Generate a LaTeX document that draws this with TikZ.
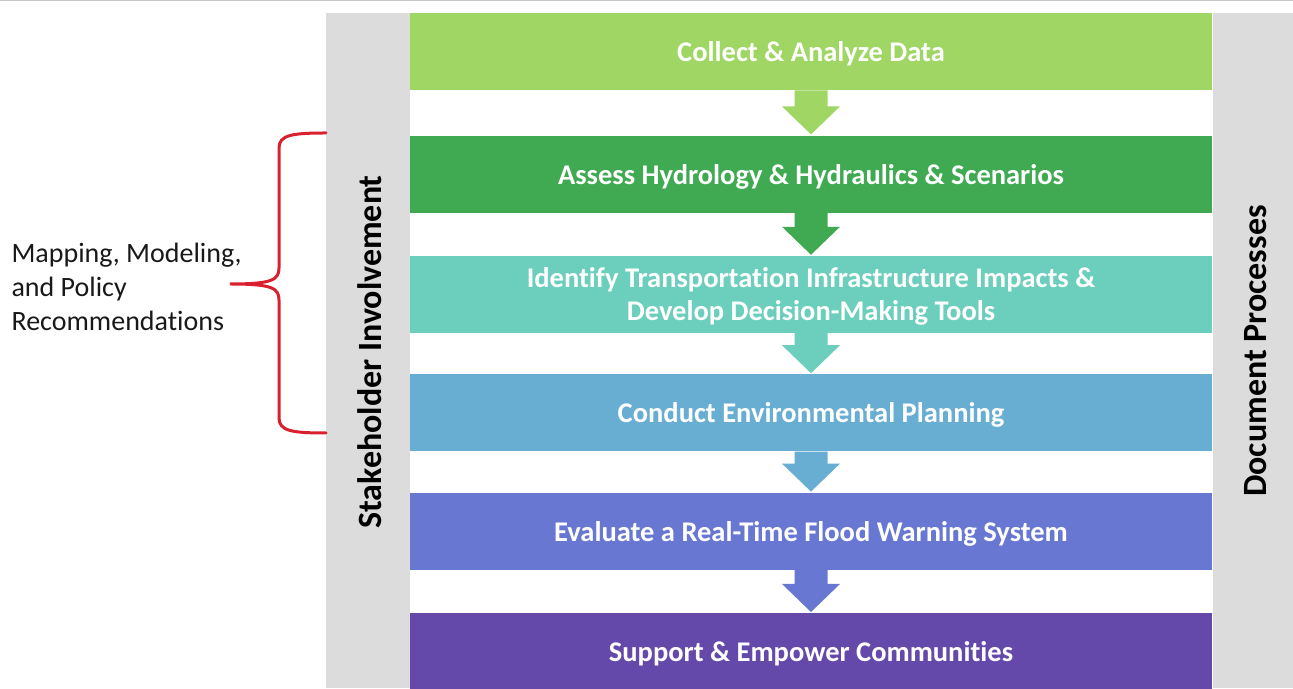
\documentclass[tikz,border=0pt]{standalone}
\usepackage{fontspec}
\setmainfont{Carlito}[Ligatures={NoCommon}]
\usetikzlibrary{positioning}
\definecolor{collectc}{HTML}{A0D664}
\definecolor{assessc}{HTML}{40AA52}
\definecolor{identifyc}{HTML}{6CCEBC}
\definecolor{conductc}{HTML}{68AED2}
\definecolor{evaluatec}{HTML}{6878D2}
\definecolor{supportc}{HTML}{6449AB}
\definecolor{bandc}{HTML}{DCDCDC}
\definecolor{bracec}{HTML}{D9202F}
\newcommand\steparrow[3]{%
  \fill[#3] ([xshift=-16.5pt]#1.south) -- ([xshift=-16.5pt,yshift=29pt]#2.north)
    -- ([xshift=-29pt,yshift=29pt]#2.north) -- ([yshift=1pt]#2.north)
    -- ([xshift=29pt,yshift=29pt]#2.north) -- ([xshift=16.5pt,yshift=29pt]#2.north)
    -- ([xshift=16.5pt]#1.south) -- cycle;}
\begin{document}
\begin{tikzpicture}[x=1pt, y=1pt,
        stepbox/.style = {minimum width=802pt, minimum height=77pt, inner sep=0pt,
            text depth=0pt, text=white, align=center,
            font=\bfseries\fontsize{28.5}{33}\selectfont},
        sidelabel/.style = {rotate=90, font=\bfseries\fontsize{34}{40}\selectfont}]
        \useasboundingbox (0,0) rectangle (1293,688);
        \draw[black!22, line width=1.5pt] (0,687.5) -- (1293,687.5);
        \fill[bandc] (326,0) rectangle (409.5,675);
        \fill[bandc] (1212.5,0) rectangle (1293,675);
        \node[stepbox, fill=collectc, anchor=north] (collect) at (811,675) {Collect \& Analyze Data};
        \node[stepbox, fill=assessc, below=45pt of collect] (assess) {Assess Hydrology \& Hydraulics \& Scenarios};
        \node[stepbox, fill=identifyc, below=43pt of assess] (identify) {Identify Transportation Infrastructure Impacts \&\\Develop Decision-Making Tools};
        \node[stepbox, fill=conductc, below=41pt of identify] (conduct) {Conduct Environmental Planning};
        \node[stepbox, fill=evaluatec, below=41pt of conduct] (evaluate) {Evaluate a Real-Time Flood Warning System};
        \node[stepbox, fill=supportc, below=43pt of evaluate] (support) {Support \& Empower Communities};
        \steparrow{collect}{assess}{collectc}
        \steparrow{assess}{identify}{assessc}
        \steparrow{identify}{conduct}{identifyc}
        \steparrow{conduct}{evaluate}{conductc}
        \steparrow{evaluate}{support}{evaluatec}
        \node[sidelabel] (stakeholder) at (370,336) {Stakeholder Involvement};
        \node[sidelabel] (document) at (1256,337) {Document Processes};
        \node[anchor=west, align=left, text=black!90, font=\fontsize{28}{34}\selectfont] (mapping) at (8,401) {Mapping, Modeling,\\and Policy\\Recommendations};
        \coordinate (brtop) at (326,555);
        \coordinate (brtip) at (230,404);
        \coordinate (brbot) at (326,255);
        \draw[bracec, line width=3pt, line cap=round]
            (brtop) .. controls (292,555) and (279,553) .. (279,540) -- (279,420)
            .. controls (279,408) and (272,404) .. (brtip)
            .. controls (272,404) and (279,400) .. (279,388) -- (279,270)
            .. controls (279,257) and (292,255) .. (brbot);
    \end{tikzpicture}
\end{document}
